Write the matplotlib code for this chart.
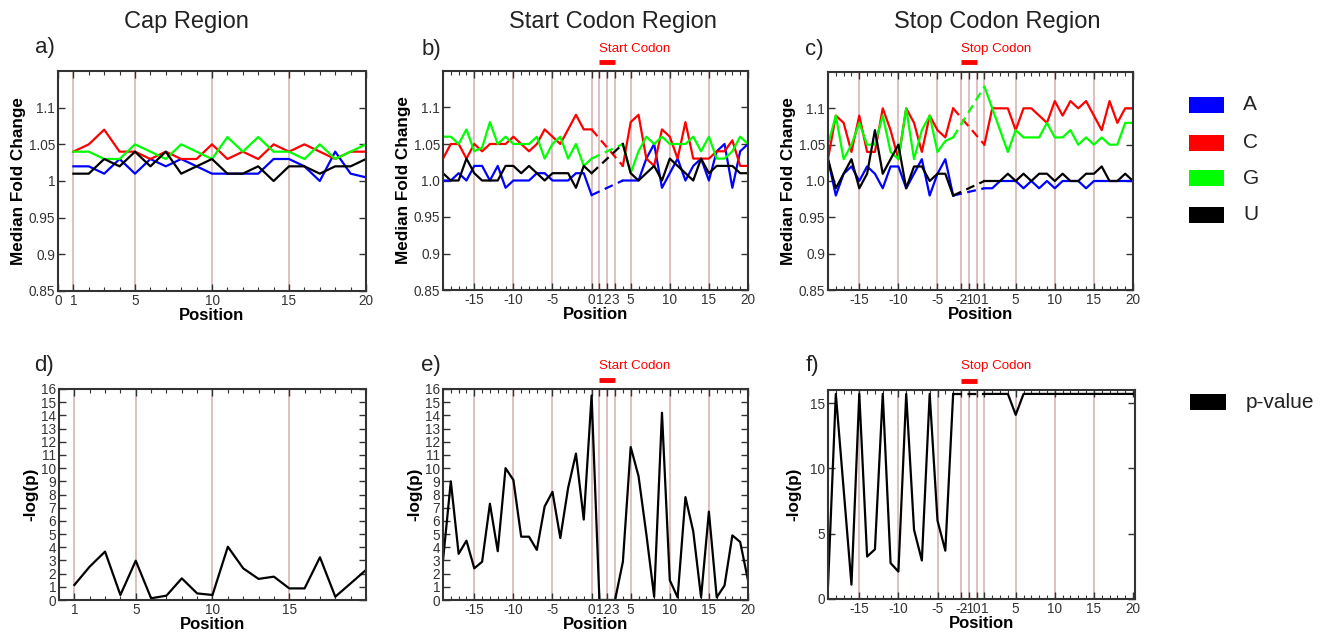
import matplotlib
matplotlib.use("Agg")
import matplotlib.pyplot as plt
import matplotlib.transforms as mtransforms
from matplotlib.patches import Rectangle
from matplotlib.ticker import MultipleLocator

plt.rcParams['font.family'] = ['Liberation Sans', 'DejaVu Sans']

# ---------------- data ----------------
nucleotides = ["A", "C", "G", "U"]
colors = ["#0000ff", "#ff0000", "#00ff00", "#000000"]

# Cap region (positions 1..20)
cap_pos = list(range(1, 21))
cap_A = [1.02, 1.02, 1.01, 1.03, 1.01, 1.03, 1.02, 1.03, 1.02, 1.01, 1.01, 1.01, 1.01, 1.03, 1.03, 1.02, 1.00, 1.04, 1.01, 1.005]
cap_C = [1.04, 1.05, 1.07, 1.04, 1.04, 1.03, 1.04, 1.03, 1.03, 1.05, 1.03, 1.04, 1.03, 1.05, 1.04, 1.05, 1.04, 1.03, 1.04, 1.04]
cap_G = [1.04, 1.04, 1.03, 1.03, 1.05, 1.04, 1.03, 1.05, 1.04, 1.03, 1.06, 1.04, 1.06, 1.04, 1.04, 1.03, 1.05, 1.03, 1.04, 1.05]
cap_U = [1.01, 1.01, 1.03, 1.02, 1.04, 1.02, 1.04, 1.01, 1.02, 1.03, 1.01, 1.01, 1.02, 1.00, 1.02, 1.02, 1.01, 1.02, 1.02, 1.03]
cap_p = [1.14, 2.53, 3.67, 0.38, 2.98, 0.13, 0.33, 1.64, 0.5, 0.38, 4.04, 2.4, 1.6, 1.77, 0.88, 0.88, 3.24, 0.25, 1.26, 2.28]

# Start codon region
start_pos_left = list(range(-19, 1))
start_pos_right = list(range(4, 21))
start_A_left = [1.00, 1.00, 1.01, 1.00, 1.02, 1.02, 1.00, 1.02, 0.99, 1.00, 1.00, 1.00, 1.01, 1.01, 1.00, 1.00, 1.00, 1.01, 1.01, 0.98]
start_A_right = [1.00, 1.00, 1.00, 1.03, 1.05, 0.99, 1.01, 1.03, 1.00, 1.02, 1.03, 1.00, 1.04, 1.05, 0.99, 1.04, 1.05]
start_C_left = [1.03, 1.05, 1.05, 1.03, 1.05, 1.04, 1.05, 1.05, 1.05, 1.06, 1.05, 1.04, 1.05, 1.07, 1.06, 1.05, 1.07, 1.09, 1.07, 1.07]
start_C_right = [1.02, 1.08, 1.09, 1.03, 1.02, 1.07, 1.06, 1.03, 1.08, 1.03, 1.03, 1.03, 1.04, 1.04, 1.055, 1.02, 1.02]
start_G_left = [1.06, 1.06, 1.05, 1.07, 1.04, 1.045, 1.08, 1.05, 1.06, 1.05, 1.05, 1.05, 1.06, 1.03, 1.05, 1.06, 1.03, 1.05, 1.02, 1.03]
start_G_right = [1.05, 1.01, 1.04, 1.06, 1.05, 1.06, 1.05, 1.05, 1.05, 1.06, 1.04, 1.06, 1.03, 1.03, 1.04, 1.06, 1.05]
start_U_left = [1.01, 1.00, 1.00, 1.03, 1.01, 1.00, 1.00, 1.00, 1.02, 1.02, 1.01, 1.02, 1.01, 1.00, 1.01, 1.01, 1.01, 0.99, 1.02, 1.01]
start_U_right = [1.05, 1.01, 1.00, 1.01, 1.02, 1.00, 1.03, 1.02, 1.01, 1.00, 1.03, 1.01, 1.02, 1.02, 1.02, 1.01, 1.01]
start_p_pos = list(range(-19, 21))
start_p = [3.0, 9.0, 3.5, 4.5, 2.4, 2.9, 7.3, 3.7, 10.0, 9.1, 4.8, 4.8, 3.8, 7.1, 8.2, 4.7, 8.5, 11.1, 6.1, 15.5,
           0.0, 0.0, 0.0, 2.9, 11.6, 9.4, 5.0, 0.25, 14.2, 1.5, 0.2, 7.8, 5.2, 0.2, 6.7, 0.2, 1.1, 4.9, 4.4, 1.5]

# Stop codon region
stop_pos_left = list(range(-19, -2))
stop_pos_right = list(range(1, 21))
stop_A_left = [1.03, 0.98, 1.01, 1.02, 1.00, 1.02, 1.01, 0.99, 1.02, 1.02, 0.99, 1.01, 1.03, 0.98, 1.01, 1.03, 0.98]
stop_A_right = [0.99, 0.99, 1.00, 1.00, 1.00, 0.99, 1.00, 0.99, 1.00, 0.99, 1.00, 1.00, 1.00, 0.99, 1.00, 1.00, 1.00, 1.00, 1.00, 1.00]
stop_C_left = [1.03, 1.09, 1.08, 1.04, 1.09, 1.04, 1.04, 1.10, 1.07, 1.03, 1.10, 1.08, 1.04, 1.09, 1.07, 1.06, 1.10]
stop_C_right = [1.05, 1.10, 1.10, 1.10, 1.07, 1.10, 1.10, 1.09, 1.08, 1.11, 1.09, 1.11, 1.10, 1.11, 1.09, 1.07, 1.11, 1.08, 1.10, 1.10]
stop_G_left = [1.05, 1.09, 1.03, 1.05, 1.08, 1.05, 1.05, 1.09, 1.04, 1.03, 1.10, 1.03, 1.07, 1.09, 1.04, 1.055, 1.06]
stop_G_right = [1.13, 1.10, 1.07, 1.04, 1.07, 1.06, 1.06, 1.06, 1.08, 1.06, 1.06, 1.07, 1.05, 1.06, 1.05, 1.06, 1.05, 1.05, 1.08, 1.08]
stop_U_left = [1.03, 0.99, 1.01, 1.03, 0.99, 1.01, 1.07, 1.01, 1.03, 1.05, 0.99, 1.02, 1.02, 1.00, 1.01, 1.01, 0.98]
stop_U_right = [1.00, 1.00, 1.00, 1.01, 1.00, 1.01, 1.00, 1.01, 1.01, 1.00, 1.01, 1.00, 1.00, 1.01, 1.01, 1.02, 1.00, 1.00, 1.01, 1.00]
stop_p_left = [1.0, 15.7, 8.4, 1.1, 15.7, 3.25, 3.8, 15.7, 2.75, 2.1, 15.7, 5.3, 2.95, 15.7, 6.0, 3.7, 15.7]
stop_p_right = [15.7, 15.7, 15.7, 15.7, 14.1, 15.7, 15.7, 15.7, 15.7, 15.7, 15.7, 15.7, 15.7, 15.7, 15.7, 15.7, 15.7, 15.7, 15.7, 15.7]

cap_ticks = [0, 1, 5, 10, 15, 20]
cap_p_ticks = [1, 5, 10, 15]
cap_vlines = [1, 5, 10, 15]
start_ticks = [-15, -10, -5, 0, 1, 2, 3, 5, 10, 15, 20]
start_vlines = [-15, -10, -5, 0, 1, 2, 3, 5, 10, 15]
stop_ticks = [-15, -10, -5, -2, -1, 0, 1, 5, 10, 15, 20]
stop_vlines = [-15, -10, -5, -2, -1, 0, 1, 5, 10, 15]
fold_ticks = [0.85, 0.9, 0.95, 1.0, 1.05, 1.1]
fold_labels_cap = ["0.85", "0.9", "0.95", "1", "1.05", "1.1"]
fold_labels = ["0.85", "0.9", "0.95", "1.0", "1.05", "1.1"]

# ---------------- figure ----------------
W, H = 1344, 636
fig = plt.figure(figsize=(W / 100, H / 100), dpi=100)

def add_ax(l, t, r, b):
    return fig.add_axes([l / W, 1 - b / H, (r - l) / W, (b - t) / H])

TXT = "#333333"
VL = "#d9b5b5"
LW = 1.6
YLAB = 12.3

def style(ax, xlim, ylim, xticks, yticks, ylabels=None, vlines=()):
    ax.set_xlim(*xlim)
    ax.set_ylim(*ylim)
    for v in vlines:
        ax.axvline(v, color=VL, lw=1.2, zorder=0)
    ax.set_xticks(xticks)
    ax.set_xticklabels([str(t) for t in xticks])
    ax.set_yticks(yticks)
    if ylabels is not None:
        ax.set_yticklabels(ylabels)
    ax.xaxis.set_minor_locator(MultipleLocator(1))
    ax.tick_params(which='both', direction='in', top=True, right=True,
                   colors=TXT, labelsize=9.8, pad=2)
    ax.tick_params(which='major', length=5, width=1)
    ax.tick_params(which='minor', length=3, width=0.8)
    for s in ax.spines.values():
        s.set_color(TXT)
        s.set_linewidth(1.5)
    ax.set_xlabel("Position", fontsize=12, fontweight='bold', labelpad=0)

def codon_mark(ax, x0, x1, text, ybar, ytxt):
    tr = mtransforms.blended_transform_factory(ax.transData, ax.transAxes)
    ax.plot([x0, x1], [ybar, ybar], color="#ff0000", lw=3.5, transform=tr,
            clip_on=False, solid_capstyle='butt')
    ax.text(x0, ytxt, text, color="#ff0000", fontsize=9.6, transform=tr,
            ha='left', va='bottom')

# a) cap region fold change
axa = add_ax(58, 71, 366, 291)
style(axa, (0, 20), (0.85, 1.15), cap_ticks, fold_ticks, fold_labels_cap, cap_vlines)
for vals, c in zip([cap_A, cap_C, cap_G, cap_U], colors):
    axa.plot(cap_pos, vals, color=c, lw=LW)
axa.set_ylabel("Median Fold Change", fontsize=YLAB, fontweight='bold', labelpad=2)

# b) start codon region
axb = add_ax(443, 71, 748, 290)
style(axb, (-19, 20), (0.85, 1.15), start_ticks, fold_ticks, fold_labels, start_vlines)
for left, right, c in zip([start_A_left, start_C_left, start_G_left, start_U_left],
                          [start_A_right, start_C_right, start_G_right, start_U_right], colors):
    axb.plot(start_pos_left, left, color=c, lw=LW)
    axb.plot(start_pos_right, right, color=c, lw=LW)
    axb.plot([start_pos_left[-1], start_pos_right[0]], [left[-1], right[0]],
             color=c, lw=LW, dashes=(4, 2.5))
axb.set_ylabel("Median Fold Change", fontsize=YLAB, fontweight='bold', labelpad=2)
codon_mark(axb, 1, 3, "Start Codon", 1.041, 1.075)

# c) stop codon region
axc = add_ax(828, 72, 1133, 290)
style(axc, (-19, 20), (0.85, 1.15), stop_ticks, fold_ticks, fold_labels, stop_vlines)
for left, right, c in zip([stop_A_left, stop_C_left, stop_G_left, stop_U_left],
                          [stop_A_right, stop_C_right, stop_G_right, stop_U_right], colors):
    axc.plot(stop_pos_left, left, color=c, lw=LW)
    axc.plot(stop_pos_right, right, color=c, lw=LW)
    axc.plot([stop_pos_left[-1], stop_pos_right[0]], [left[-1], right[0]],
             color=c, lw=LW, dashes=(4, 2.5))
axc.set_ylabel("Median Fold Change", fontsize=YLAB, fontweight='bold', labelpad=2)
codon_mark(axc, -2, 0, "Stop Codon", 1.045, 1.08)

# d) cap region p-value
axd = add_ax(59, 389, 366, 600)
style(axd, (0, 20), (0, 16), cap_p_ticks, list(range(0, 17)), None, cap_vlines)
axd.plot(cap_pos, cap_p, color="black", lw=LW)
axd.set_ylabel("-log(p)", fontsize=YLAB, fontweight='bold', labelpad=2)

# e) start codon p-value
axe = add_ax(443, 389, 748, 600)
style(axe, (-19, 20), (0, 16), start_ticks, list(range(0, 17)), None, start_vlines)
axe.plot(start_p_pos, start_p, color="black", lw=LW)
axe.set_ylabel("-log(p)", fontsize=YLAB, fontweight='bold', labelpad=2)
codon_mark(axe, 1, 3, "Start Codon", 1.043, 1.08)

# f) stop codon p-value
axf = add_ax(828, 390, 1135, 599)
style(axf, (-19, 20.25), (0, 16), stop_ticks, [0, 5, 10, 15], None, stop_vlines)
axf.plot(stop_pos_left, stop_p_left, color="black", lw=LW)
axf.plot(stop_pos_right, stop_p_right, color="black", lw=LW)
axf.plot([stop_pos_left[-1], stop_pos_right[0]], [stop_p_left[-1], stop_p_right[0]],
         color="black", lw=LW, dashes=(4, 2.5))
axf.set_ylabel("-log(p)", fontsize=YLAB, fontweight='bold', labelpad=6)
codon_mark(axf, -2, 0, "Stop Codon", 1.043, 1.085)

# titles and panel letters
def ftext(x, y, s, **kw):
    fig.text(x / W, 1 - y / H, s, **kw)

ftext(186, 22, "Cap Region", fontsize=17, ha='center', va='center', color="#222222")
ftext(613, 22, "Start Codon Region", fontsize=17, ha='center', va='center', color="#222222")
ftext(997, 22, "Stop Codon Region", fontsize=17, ha='center', va='center', color="#222222")
for x, y, s in [(35, 48, "a)"), (422, 49, "b)"), (805, 50, "c)"),
                (34, 365, "d)"), (421, 365, "e)"), (806, 365, "f)")]:
    ftext(x, y, s, fontsize=16, ha='left', va='center', color="#222222")

# legend
leg_y = [105, 143, 178, 215]
for lab, c, y in zip(nucleotides, colors, leg_y):
    fig.add_artist(Rectangle((1189 / W, 1 - (y + 8) / H), 35 / W, 16 / H,
                             transform=fig.transFigure, facecolor=c, edgecolor='none'))
    ftext(1243, y, lab, fontsize=15, ha='left', va='center', color="#222222")
fig.add_artist(Rectangle((1190 / W, 1 - (402 + 8) / H), 36 / W, 16 / H,
                         transform=fig.transFigure, facecolor="black", edgecolor='none'))
ftext(1246, 402, "p-value", fontsize=15, ha='left', va='center', color="#222222")

fig.savefig("out.png", dpi=100)
